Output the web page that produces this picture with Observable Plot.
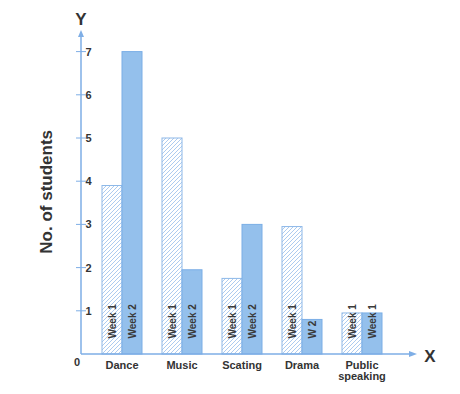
<!DOCTYPE html>
<html><head><meta charset="utf-8">
<script src="https://cdn.jsdelivr.net/npm/d3@7"></script>
<script src="https://cdn.jsdelivr.net/npm/@observablehq/plot@0.6"></script>
<style>body{margin:0;background:#fff;} svg{display:block;}</style>
</head><body><div id="chart"></div>
<script>
const activities = ["Dance", "Music", "Scating", "Drama", "Public speaking"];
const weeks = ["Week 1", "Week 2"];
const week1Values = [3.9, 5, 1.75, 2.95, 0.95];
const week2Values = [7, 1.95, 3, 0.8, 0.95];
const week1Labels = ["Week 1", "Week 1", "Week 1", "Week 1", "Week 1"];
const week2Labels = ["Week 2", "Week 2", "Week 2", "W 2", "Week 1"];
const yTicks = [1, 2, 3, 4, 5, 6, 7];
const yLabel = "No. of students";

const data = activities.flatMap((a, i) => [
  {activity: a, week: weeks[0], value: week1Values[i], label: week1Labels[i]},
  {activity: a, week: weeks[1], value: week2Values[i], label: week2Labels[i]}
]);

const axisColor = "#7eaee6";
const font = "'Liberation Sans', Arial, sans-serif";

const chart = Plot.plot({
  width: 460, height: 394,
  marginLeft: 81, marginRight: 57, marginTop: 30, marginBottom: 40,
  style: {fontFamily: font, fontSize: "11px", fontWeight: "bold", color: "#333", background: "transparent"},
  fx: {domain: activities, paddingInner: 0.31, paddingOuter: 0.31, label: null, tickSize: 0, tickPadding: 7,
       tickFormat: d => d === "Public speaking" ? "Public\nspeaking" : d},
  x: {domain: weeks, padding: 0, axis: null},
  y: {domain: [0, 7.5], ticks: yTicks, tickSize: 0, tickPadding: 10, label: null, tickFormat: d => d},
  color: {type: "identity"},
  marks: [
    Plot.barY(data, {fx: "activity", x: "week", y: "value",
      fill: d => d.week === "Week 1" ? "url(#hatch)" : "#94c0ec",
      stroke: d => d.week === "Week 1" ? "#8db8e8" : "#7aaee6", strokeWidth: 1}),
    Plot.text(data, {fx: "activity", x: "week", y: 0, text: "label", rotate: -90,
      textAnchor: "start", dy: -16, fill: "#3a3a3a", fontSize: 10, fontWeight: "bold"})
  ]
});
document.getElementById("chart").appendChild(chart);

const svg = d3.select(chart);
const defs = svg.insert("defs", ":first-child");
const pat = defs.append("pattern").attr("id", "hatch").attr("patternUnits", "userSpaceOnUse")
  .attr("width", 4).attr("height", 4);
pat.append("rect").attr("width", 4).attr("height", 4).attr("fill", "#fff");
pat.append("path").attr("d", "M-1,1 l2,-2 M0,4 l4,-4 M3,5 l2,-2")
  .attr("stroke", "#adcbef").attr("stroke-width", 1);

const ys = chart.scale("y");
const fxs = chart.scale("fx");
const x0 = 81;
const x1 = 403;
const y0 = ys.apply(0);
const yTop = ys.apply(ys.domain[1]);

const deco = svg.append("g");
deco.append("line").attr("x1", x0).attr("x2", x0).attr("y1", y0).attr("y2", yTop + 4)
  .attr("stroke", axisColor).attr("stroke-width", 1.5);
deco.append("line").attr("x1", x0).attr("x2", x1 + 8).attr("y1", y0).attr("y2", y0)
  .attr("stroke", axisColor).attr("stroke-width", 1.5);
deco.append("path").attr("d", `M${x0 - 3},${yTop + 7} L${x0},${yTop} L${x0 + 3},${yTop + 7} Z`).attr("fill", axisColor);
deco.append("path").attr("d", `M${x1 + 6},${y0 - 3} L${x1 + 14},${y0} L${x1 + 6},${y0 + 3} Z`).attr("fill", axisColor);
for (const t of yTicks) {
  const yy = ys.apply(t);
  deco.append("line").attr("x1", x0 - 5).attr("x2", x0 + 5).attr("y1", yy).attr("y2", yy)
    .attr("stroke", axisColor).attr("stroke-width", 1);
}
deco.append("text").attr("x", x0).attr("y", 25).attr("text-anchor", "middle")
  .attr("font-family", font).attr("font-weight", "bold").attr("font-size", 17).attr("fill", "#333").text("Y");
deco.append("text").attr("x", x1 + 27).attr("y", y0 + 8).attr("text-anchor", "middle")
  .attr("font-family", font).attr("font-weight", "bold").attr("font-size", 17).attr("fill", "#333").text("X");
deco.append("text").attr("x", x0 - 1).attr("y", y0 + 12).attr("text-anchor", "end")
  .attr("font-family", font).attr("font-weight", "bold").attr("font-size", 11).attr("fill", "#333").text("0");
deco.append("text").attr("transform", `translate(52,${(ys.apply(0) + ys.apply(7)) / 2 - 11}) rotate(-90)`)
  .attr("text-anchor", "middle").attr("font-family", font).attr("font-weight", "bold")
  .attr("font-size", 17).attr("fill", "#333").text(yLabel);
</script>
</body></html>
